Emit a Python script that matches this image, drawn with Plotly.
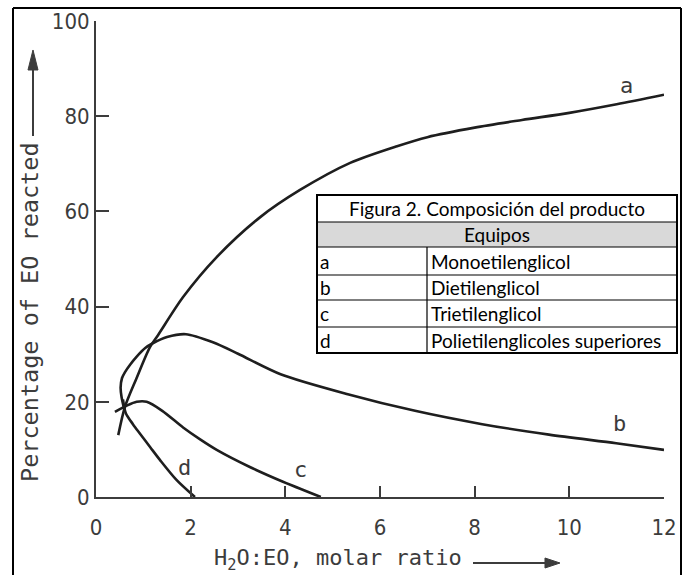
import plotly.graph_objects as go

# ---------------- data ----------------
a_x = [0.47, 0.61, 0.85, 1.14, 1.31, 1.84, 2.55, 3.47, 4.31, 5.37, 6.36, 7.0, 8.0, 9.0, 10.0, 11.0, 12.0]
a_y = [13.0, 18.9, 24.8, 31.5, 34.0, 42.0, 50.4, 58.8, 64.5, 70.2, 73.7, 75.6, 77.6, 79.2, 80.7, 82.5, 84.5]

b_x = [0.60, 0.54, 0.52, 0.55, 0.61, 0.72, 0.86, 1.04, 1.20, 1.50, 1.90, 2.47, 3.00, 3.90, 5.32, 6.74, 8.16, 9.57, 10.99, 12.0]
b_y = [18.3, 21.0, 23.0, 25.0, 26.2, 27.8, 29.5, 31.3, 32.3, 33.6, 34.2, 32.5, 30.1, 25.8, 21.6, 18.1, 15.3, 13.1, 11.3, 9.9]

c_x = [0.40, 0.65, 0.86, 1.07, 1.40, 1.84, 2.20, 2.55, 3.25, 3.95, 4.75]
c_y = [17.9, 19.2, 20.0, 20.0, 18.1, 14.6, 12.1, 9.9, 6.3, 3.2, 0.0]

d_x = [0.57, 0.63, 0.78, 0.93, 1.15, 1.35, 1.70, 2.09]
d_y = [20.5, 17.6, 15.3, 13.3, 10.4, 7.8, 3.6, 0.0]

curve_labels = ["a", "b", "c", "d"]
label_x = [11.2, 11.07, 4.33, 1.88]
label_y = [86.5, 15.5, 5.7, 6.3]

x_ticks = [0, 2, 4, 6, 8, 10, 12]
y_ticks = [0, 20, 40, 60, 80, 100]

table_title = "Figura 2. Composición del producto"
table_header = "Equipos"
table_keys = ["a", "b", "c", "d"]
table_names = ["Monoetilenglicol", "Dietilenglicol", "Trietilenglicol", "Polietilenglicoles superiores"]

x_title = "H<sub>2</sub>O:EO, molar ratio"
y_title = "Percentage of EO reacted"

# ---------------- layout geometry ----------------
W, H = 683, 575
L, R, T, B = 96, 664, 21, 497


def px(x):
    return (x - L) / (R - L)


def py(y):
    return (B - y) / (B - T)


INK = "#1e1e1e"
GREY = "#3c3c3c"
NARROW = "Liberation Sans Narrow, DejaVu Sans Condensed, sans-serif"
MONO = "DejaVu Sans Mono, Liberation Mono, monospace"
TABLEF = "Lato, Open Sans, sans-serif"

fig = go.Figure()
for xs, ys in [(a_x, a_y), (b_x, b_y), (c_x, c_y), (d_x, d_y)]:
    fig.add_trace(go.Scatter(x=xs, y=ys, mode="lines",
                             line=dict(color=INK, width=2.6, shape="spline", smoothing=0.8),
                             showlegend=False, hoverinfo="skip"))

annotations = []
shapes = []
for t, x, y in zip(curve_labels, label_x, label_y):
    annotations.append(dict(x=x, y=y, xref="x", yref="y", text=t, showarrow=False,
                            font=dict(family=MONO, size=22, color=GREY)))

# axis titles
annotations.append(dict(x=px(212), y=py(559), xref="paper", yref="paper", text=x_title,
                        xanchor="left", yanchor="middle", showarrow=False,
                        font=dict(family=MONO, size=22, color=GREY)))
annotations.append(dict(x=px(30), y=py(312), xref="paper", yref="paper", text=y_title,
                        textangle=-90, xanchor="center", yanchor="middle", showarrow=False,
                        font=dict(family=MONO, size=23.5, color=GREY)))

# arrows drawn as line + filled triangle
def line_px(x0, y0, x1, y1, color, width):
    return dict(type="line", xref="paper", yref="paper", x0=px(x0), y0=py(y0),
                x1=px(x1), y1=py(y1), line=dict(color=color, width=width))


def tri_px(pts, color):
    path = "M " + " L ".join(f"{px(x):.5f},{py(y):.5f}" for x, y in pts) + " Z"
    return dict(type="path", xref="paper", yref="paper", path=path,
                fillcolor=color, line=dict(color=color, width=1))


shapes.append(line_px(473, 563, 548, 563, GREY, 2))
shapes.append(tri_px([(545, 558), (560, 563), (545, 568)], GREY))
shapes.append(line_px(33, 136, 33, 64, GREY, 2))
shapes.append(tri_px([(28, 70), (33, 50), (38, 70)], GREY))

# table
tx0, tx1, tcol = 317, 677, 427
rows = [195, 222, 247, 275, 300, 327, 353]
shapes.append(dict(type="rect", xref="paper", yref="paper", x0=px(tx0), x1=px(tx1),
                   y0=py(rows[-1]), y1=py(rows[0]), fillcolor="white", line=dict(width=0),
                   layer="above"))
shapes.append(dict(type="rect", xref="paper", yref="paper", x0=px(tx0), x1=px(tx1),
                   y0=py(rows[2]), y1=py(rows[1]), fillcolor="#d9d9d9", line=dict(width=0),
                   layer="above"))
for r in rows[1:-1]:
    shapes.append(dict(type="line", xref="paper", yref="paper", x0=px(tx0), x1=px(tx1),
                       y0=py(r), y1=py(r), line=dict(color="black", width=1.2), layer="above"))
shapes.append(dict(type="line", xref="paper", yref="paper", x0=px(tcol), x1=px(tcol),
                   y0=py(rows[2]), y1=py(rows[-1]), line=dict(color="black", width=1.2), layer="above"))
shapes.append(dict(type="rect", xref="paper", yref="paper", x0=px(tx0), x1=px(tx1),
                   y0=py(rows[-1]), y1=py(rows[0]), fillcolor="rgba(0,0,0,0)",
                   line=dict(color="black", width=2), layer="above"))

tfont = dict(family=TABLEF, size=19, color="black")
annotations.append(dict(x=px((tx0 + tx1) / 2), y=py((rows[0] + rows[1]) / 2), xref="paper", yref="paper",
                        text=table_title, showarrow=False, xanchor="center", yanchor="middle", font=tfont))
annotations.append(dict(x=px((tx0 + tx1) / 2), y=py((rows[1] + rows[2]) / 2), xref="paper", yref="paper",
                        text=table_header, showarrow=False, xanchor="center", yanchor="middle", font=tfont))
for i, (k, n) in enumerate(zip(table_keys, table_names)):
    yc = py((rows[2 + i] + rows[3 + i]) / 2)
    annotations.append(dict(x=px(tx0 + 1), y=yc, xref="paper", yref="paper", text=k, showarrow=False,
                            xanchor="left", yanchor="middle", font=tfont))
    annotations.append(dict(x=px(tcol + 2), y=yc, xref="paper", yref="paper", text=n, showarrow=False,
                            xanchor="left", yanchor="middle", font=tfont))

# outer frame (left, top, right; bottom edge is cut off in the picture)
shapes.append(line_px(13, 575, 13, 8, "black", 2))
shapes.append(line_px(13, 8, 681, 8, "black", 2))
shapes.append(line_px(681, 8, 681, 575, "black", 2))

fig.update_layout(
    width=W, height=H, autosize=False,
    margin=dict(l=L, r=W - R, t=T, b=H - B, autoexpand=False),
    paper_bgcolor="white", plot_bgcolor="white",
    shapes=shapes, annotations=annotations,
    xaxis=dict(range=[0, 12], tickvals=x_ticks, ticktext=[str(v) for v in x_ticks],
               ticks="inside", ticklen=11, tickwidth=1.5, tickcolor=GREY,
               showline=True, linewidth=2, linecolor=GREY, showgrid=False, zeroline=False,
               tickfont=dict(family=NARROW, size=22, color=GREY), ticklabelstandoff=10),
    yaxis=dict(range=[0, 100], tickvals=y_ticks, ticktext=[str(v) for v in y_ticks],
               ticks="inside", ticklen=13, tickwidth=1.5, tickcolor=GREY,
               showline=True, linewidth=2, linecolor=GREY, showgrid=False, zeroline=False,
               tickfont=dict(family=NARROW, size=22, color=GREY), ticklabelstandoff=0),
)

fig.write_html("out.html")
